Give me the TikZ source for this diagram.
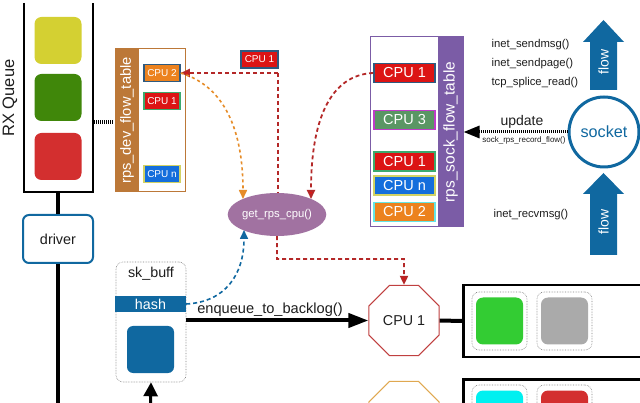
\documentclass[tikz,border=0pt]{standalone}
\usepackage{fontspec}
\setmainfont{Liberation Sans}
\usetikzlibrary{shapes.geometric,arrows.meta}
\definecolor{qyellow}{RGB}{212,208,50}
\definecolor{qgreen}{RGB}{64,135,10}
\definecolor{qred}{RGB}{211,47,47}
\definecolor{mainblue}{RGB}{16,104,160}
\definecolor{navyb}{RGB}{46,90,128}
\definecolor{brownc}{RGB}{188,120,56}
\definecolor{purplec}{RGB}{123,92,166}
\definecolor{mauve}{RGB}{161,114,161}
\definecolor{cpured}{RGB}{220,20,20}
\definecolor{cpuorange}{RGB}{236,130,30}
\definecolor{cpublue}{RGB}{20,110,220}
\definecolor{cpugreen}{RGB}{90,150,100}
\definecolor{bmagenta}{RGB}{190,60,200}
\definecolor{bgreen}{RGB}{60,170,110}
\definecolor{byellow}{RGB}{210,210,100}
\definecolor{bcyan}{RGB}{100,230,230}
\definecolor{dashred}{RGB}{180,40,40}
\definecolor{tipred}{RGB}{225,20,20}
\definecolor{dashorange}{RGB}{230,140,40}
\definecolor{octred}{RGB}{192,64,64}
\definecolor{octorange}{RGB}{224,168,80}
\definecolor{sqgreen}{RGB}{51,204,51}
\definecolor{sqgray}{RGB}{170,170,170}
\definecolor{sqcyan}{RGB}{0,240,240}
\definecolor{txt}{RGB}{30,30,30}
\begin{document}
\begin{tikzpicture}[x=1pt,y=-1pt,
  fsz/.style={font=\fontsize{#1}{#1}\selectfont},
  sq/.style={rounded corners=7pt, minimum width=47, minimum height=47, inner sep=0},
  cpus/.style={draw=#1, line width=1.5pt, minimum width=36, minimum height=17, inner sep=0, text=white, fsz=10},
  cpul/.style={draw=#1, line width=1.8pt, minimum width=61, minimum height=19, inner sep=0, text=white, fsz=14.5},
  dotbox/.style={draw=gray, densely dotted, line width=0.6pt, rounded corners=7pt, inner sep=0},
  rdash/.style={draw=dashred, line width=1.8pt, dash pattern=on 4pt off 3pt},
  rtip/.style={-{Triangle[length=9pt,width=8pt,fill=tipred]}},
  oct/.style={regular polygon, regular polygon sides=8, minimum size=76, inner sep=0, line width=1pt},
  txtc/.style={text=txt}
]
\useasboundingbox (0,0) rectangle (640,403);
\clip (0,0) rectangle (640,403);
\fill[white] (0,0) rectangle (640,403);

% RX queue
\draw[line width=2.5pt] (24,3) -- (24,192) -- (93,192) -- (93,3);
\node[sq, fill=qyellow] (q1) at (58,40.5) {};
\node[sq, fill=qgreen] (q2) at (58,97.5) {};
\node[sq, fill=qred] (q3) at (58,156.5) {};
\node[rotate=90, fsz=16.5, txtc] (rxl) at (10,98) {RX Queue};
\coordinate (qb) at (58,192);
\coordinate (qr) at (94,122);

% driver
\node[draw=mainblue, line width=2pt, rounded corners=6pt, minimum width=70, minimum height=48, fill=white, fsz=14.4, txtc] (driver) at (58,239) {driver};
\coordinate (bot) at (58,410);
\draw[line width=4pt] (qb) -- (driver.north);
\draw[line width=4pt] (driver.south) -- (bot);

% rps_dev_flow_table
\node[draw=brownc, line width=1pt, minimum width=70, minimum height=143, inner sep=0] (devtab) at (150,120.5) {};
\fill[brownc] (devtab.north west) rectangle (139,192);
\node[rotate=90, text=white, fsz=14.7] (devl) at (127,120.5) {rps\_dev\_flow\_table};
\node[cpus=navyb, fill=cpuorange] (d2) at (162,73) {CPU 2};
\node[cpus=bgreen, fill=cpured] (d1) at (162,101) {CPU 1};
\node[cpus=byellow, fill=cpublue] (dn) at (162,174) {CPU n};
\coordinate (dl) at (114,122);
\draw[line width=4pt, dash pattern=on 1pt off 1pt] (qr) -- (dl);

% top CPU 1 label
\node[cpus=navyb, fill=cpured, minimum width=37] (t1) at (259.5,59.5) {CPU 1};

% get_rps_cpu
\node[ellipse, fill=mauve, minimum width=92, minimum height=43, inner sep=0, text=white, fsz=11.3] (getrps) at (277,214.5) {get\_rps\_cpu()};

% rps_sock_flow_table
\node[draw=purplec, line width=1pt, minimum width=93, minimum height=190, inner sep=0] (socktab) at (416.5,132) {};
\fill[purplec] (438,37) rectangle (463,227);
\node[rotate=90, text=white, fsz=15.5] (sockl) at (450.5,132) {rps\_sock\_flow\_table};
\node[cpul=navyb, fill=cpured] (s1) at (404.5,73) {CPU 1};
\node[cpul=bmagenta, fill=cpugreen] (s3) at (404.5,120) {CPU 3};
\node[cpul=bgreen, fill=cpured] (s1b) at (404.5,161.5) {CPU 1};
\node[cpul=byellow, fill=cpublue] (sn) at (404.5,185.5) {CPU n};
\node[cpul=bcyan, fill=cpuorange] (s2) at (404.5,212) {CPU 2};

% red dashed from corner
\coordinate (c1) at (278,73);
\draw[rdash, rtip] (c1) -- (d2.east);
\draw[rdash] (c1) -- (c1 |- getrps.north);

% orange dashed curve
\coordinate (oe) at (243,199);
\draw[draw=dashorange, line width=1.6pt, dash pattern=on 3pt off 3pt, -{Triangle[length=9pt,width=8pt,fill=dashorange]}] (d2.east) .. controls (230,88) and (243,140) .. (oe);

% red dashed curve from sock CPU 1
\coordinate (re) at (311,199);
\draw[rdash, rtip] (s1.west) .. controls (330,75) and (311,120) .. (re);

% socket
\node[circle, draw=mainblue, line width=3pt, minimum size=70, inner sep=0, text=mainblue, fsz=16.2] (socket) at (604,132) {socket};
\draw[line width=3pt, dash pattern=on 1pt off 1pt, -{Triangle[length=16pt,width=12pt]}] (socket.west) -- (socktab.east);
\node[fsz=14, txtc] (upd) at (522,122) {update};
\node[fsz=8, txtc] (srec) at (524,140) {sock\_rps\_record\_flow()};

% flow arrows
\fill[mainblue] (590,90) -- (590,42) -- (583,42) -- (603.5,20) -- (624,42) -- (617,42) -- (617,90) -- cycle;
\node[rotate=90, text=white, fsz=14] (flow1) at (603.5,62) {flow};
\fill[mainblue] (590,255) -- (590,194) -- (583,194) -- (603.5,173) -- (624,194) -- (617,194) -- (617,255) -- cycle;
\node[rotate=90, text=white, fsz=14] (flow2) at (603.5,222) {flow};

\node[anchor=west, fsz=11.3, txtc] (f1) at (488,45) {inet\_sendmsg()};
\node[anchor=west, fsz=11.3, txtc] (f2) at (488,64) {inet\_sendpage()};
\node[anchor=west, fsz=11.3, txtc] (f3) at (488,83) {tcp\_splice\_read()};
\node[anchor=west, fsz=11.3, txtc] (f4) at (490,215) {inet\_recvmsg()};

% sk_buff
\node[dotbox, minimum width=70, minimum height=120] (skbuff) at (151,322) {};
\node[fsz=14.3, txtc] (skl) at (151,274) {sk\_buff};
\node[fill=mainblue, minimum width=71, minimum height=16, inner sep=0, text=white, fsz=14.3] (hash) at (150.5,304) {hash};
\node[sq, fill=mainblue, rounded corners=6pt] (bsq) at (150.5,349.5) {};
\coordinate (b0) at (150,425);
\draw[line width=3pt, -{Triangle[length=14pt,width=14pt]}] (b0) -- (skbuff.south);

% blue dashed curve
\coordinate (be) at (244,230);
\draw[draw=mainblue, line width=1.6pt, dash pattern=on 4pt off 3pt, -{Triangle[length=9pt,width=8pt,fill=mainblue]}] (hash.east) .. controls (225,302) and (244,275) .. (be);

% CPU octagons
\node[oct, draw=octred, fill=white, fsz=14.3, txtc] (oct1) at (404,320.5) {CPU 1};
\node[oct, draw=octorange, fill=white] (oct2) at (404,416.5) {};

% enqueue
\draw[line width=4pt, -{Triangle[length=20pt,width=14pt]}] (skbuff.east |- oct1.west) -- (oct1.west);
\node[fsz=14.6, txtc] (enq) at (270,310) {enqueue\_to\_backlog()};

% red dashed below ellipse
\coordinate (c2) at (277,259);
\coordinate (c3) at (404,259);
\draw[rdash, rtip] (getrps.south) -- (c2) -- (c3) -- (oct1.north);

% right queues
\node[draw, line width=2.5pt, minimum width=220, minimum height=72, inner sep=0, anchor=west] (box1) at (462,321) {};
\draw[line width=4pt] (oct1.east) -- (box1.west);
\node[dotbox, minimum width=55, minimum height=58] (db1) at (499.5,321) {};
\node[sq, fill=sqgreen] (g1) at (499.5,321) {};
\node[dotbox, minimum width=55, minimum height=58] (db2) at (564.5,321) {};
\node[sq, fill=sqgray] (g2) at (564.5,321) {};

\node[draw, line width=2.5pt, minimum width=220, minimum height=72, inner sep=0, anchor=north west] (box2) at (462,378) {};
\node[dotbox, minimum width=55, minimum height=58] (db3) at (499.5,414) {};
\node[sq, fill=sqcyan] (g3) at (499.5,414) {};
\node[dotbox, minimum width=55, minimum height=58] (db4) at (564.5,414) {};
\node[sq, fill=qred] (g4) at (564.5,414) {};
\end{tikzpicture}
\end{document}
